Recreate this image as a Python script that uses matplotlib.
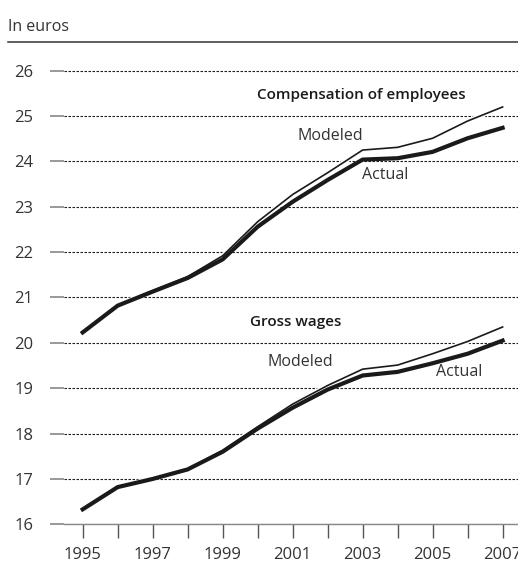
import matplotlib
matplotlib.use("Agg")
import matplotlib.pyplot as plt
import matplotlib.patheffects as pe

plt.rcParams['font.family'] = ['Open Sans', 'DejaVu Sans']

years = list(range(1995, 2008))

# compensation of employees per hour, in euros
comp_actual = [20.23, 20.82, 21.13, 21.43, 21.84, 22.56, 23.11, 23.59, 24.04, 24.07, 24.21, 24.51, 24.74]
comp_modeled = [20.23, 20.83, 21.15, 21.46, 21.92, 22.67, 23.27, 23.75, 24.25, 24.31, 24.51, 24.89, 25.20]

# gross wages per hour, in euros
wage_actual = [16.33, 16.82, 17.00, 17.21, 17.60, 18.11, 18.57, 18.97, 19.28, 19.36, 19.55, 19.76, 20.05]
wage_modeled = [16.33, 16.82, 17.01, 17.22, 17.63, 18.15, 18.65, 19.06, 19.42, 19.51, 19.76, 20.03, 20.35]

y_ticks = [16, 17, 18, 19, 20, 21, 22, 23, 24, 25, 26]
x_labels = [str(y) if y % 2 == 1 else "" for y in years]

dark = "#1a1a1a"
txt = "#333333"

fig = plt.figure(figsize=(5.18, 5.65), dpi=100)
ax = fig.add_axes([64 / 518, (565 - 524.3) / 565, 1 - 64 / 518, (524.3 - 68.4) / 565])

ax.set_xlim(1994.466, 2007.44)
ax.set_ylim(16, 26.05)

# modeled goes underneath with a white edge, actual sits on top
halo = [pe.Stroke(linewidth=3.4, foreground="white"), pe.Normal()]
for actual, modeled in [(comp_actual, comp_modeled), (wage_actual, wage_modeled)]:
    ax.plot(years, modeled, color=dark, lw=1.2, path_effects=halo, zorder=3)
    ax.plot(years, actual, color=dark, lw=3.0, solid_joinstyle="round", zorder=4)

ax.set_yticks(y_ticks)
ax.set_xticks(years)
ax.set_xticklabels(x_labels)
ax.tick_params(axis="y", length=10, width=1.2, color="#888888", pad=12,
               labelsize=12, labelcolor=txt)
ax.tick_params(axis="x", length=10, width=1.0, color="#555555", pad=6,
               labelsize=12, labelcolor=txt)
ax.grid(axis="y", linestyle=(0, (2.2, 1.4)), color=dark, lw=0.8)

for side in ["top", "right", "left"]:
    ax.spines[side].set_visible(False)
ax.spines["bottom"].set_color("#888888")
ax.spines["bottom"].set_linewidth(1.0)

ax.text(2002.97, 25.46, "Compensation of employees", ha="center", va="center",
        fontsize=11, fontweight="semibold", color=dark)
ax.text(2001.14, 24.56, "Modeled", ha="left", va="center", fontsize=11.5, color=txt)
ax.text(2002.97, 23.70, "Actual", ha="left", va="center", fontsize=11.5, color=txt)
ax.text(2001.09, 20.45, "Gross wages", ha="center", va="center",
        fontsize=11, fontweight="semibold", color=dark)
ax.text(2000.27, 19.57, "Modeled", ha="left", va="center", fontsize=11.5, color=txt)
ax.text(2005.09, 19.35, "Actual", ha="left", va="center", fontsize=11.5, color=txt)

fig.text(8 / 518, 1 - 31 / 565, "In euros", ha="left", va="baseline", fontsize=11.5, color=txt)
fig.add_artist(plt.Line2D([8 / 518, 1.0], [1 - 41.5 / 565, 1 - 41.5 / 565], color="#333333", lw=1.1))

fig.savefig("out.png", dpi=100)
